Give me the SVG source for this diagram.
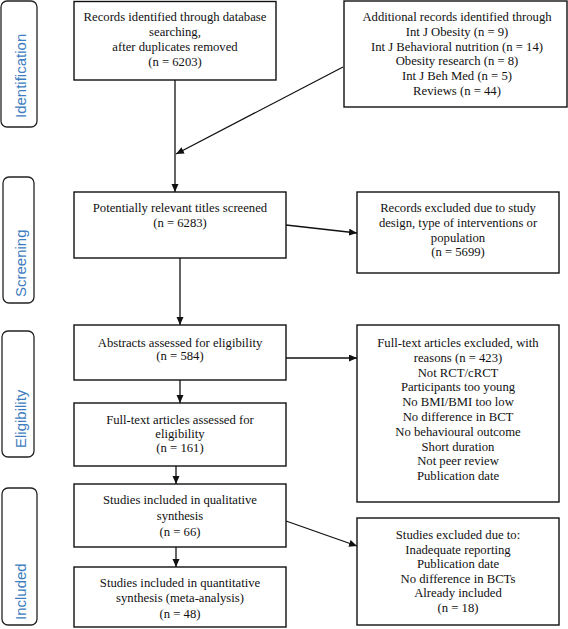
<svg xmlns="http://www.w3.org/2000/svg" width="568" height="629" viewBox="0 0 568 629">
<style>
.box{fill:#fff;stroke:#111;stroke-width:1.4}
.lab{fill:#fff;stroke:#222;stroke-width:1.3}
.t{font-family:"Liberation Serif","Times New Roman",serif;font-size:12.7px;fill:#111;text-anchor:middle}
.s{font-family:"Liberation Sans",Arial,sans-serif;font-size:15px;fill:#3d7cc0}
.c{stroke:#111;stroke-width:1.3;fill:none;marker-end:url(#ah)}
</style>
<defs>
<marker id="ah" markerUnits="userSpaceOnUse" markerWidth="9" markerHeight="8" refX="8" refY="3.5" orient="auto">
<path d="M0,0 L8,3.5 L0,7 z" fill="#111"/>
</marker>
</defs>
<rect width="568" height="629" fill="#fff"/>
<g id="stage-identification">
<rect class="lab" x="1" y="1" width="36" height="126" rx="6"/>
<text class="s" transform="translate(26,118) rotate(-90)">Identification</text>
</g>
<g id="stage-screening">
<rect class="lab" x="3" y="177" width="31" height="126" rx="6"/>
<text class="s" transform="translate(25.5,297) rotate(-90)">Screening</text>
</g>
<g id="stage-eligibility">
<rect class="lab" x="2" y="331" width="32" height="126" rx="6"/>
<text class="s" transform="translate(25.5,448) rotate(-90)">Eligibility</text>
</g>
<g id="stage-included">
<rect class="lab" x="2" y="488" width="35" height="137" rx="6"/>
<text class="s" transform="translate(25.5,620) rotate(-90)">Included</text>
</g>
<g id="records-db">
<rect class="box" x="74" y="1.5" width="202" height="78.5"/>
<text class="t"><tspan x="175" y="21">Records identified through database</tspan><tspan x="175" y="36">searching,</tspan><tspan x="175" y="51">after duplicates removed</tspan><tspan x="175" y="66">(n = 6203)</tspan></text>
</g>
<g id="records-additional">
<rect class="box" x="344" y="1" width="223" height="106"/>
<text class="t"><tspan x="457" y="21">Additional records identified through</tspan><tspan x="457" y="36">Int J Obesity (n = 9)</tspan><tspan x="457" y="51">Int J Behavioral nutrition (n = 14)</tspan><tspan x="457" y="65">Obesity research (n = 8)</tspan><tspan x="457" y="80">Int J Beh Med (n = 5)</tspan><tspan x="457" y="95">Reviews (n = 44)</tspan></text>
</g>
<g id="titles-screened">
<rect class="box" x="74" y="192" width="212" height="66"/>
<text class="t"><tspan x="180" y="212">Potentially relevant titles screened</tspan><tspan x="180" y="227">(n = 6283)</tspan></text>
</g>
<g id="records-excluded">
<rect class="box" x="357" y="192" width="202" height="81"/>
<text class="t"><tspan x="458" y="212">Records excluded due to study</tspan><tspan x="458" y="227">design, type of interventions or</tspan><tspan x="458" y="242">population</tspan><tspan x="458" y="256">(n = 5699)</tspan></text>
</g>
<g id="abstracts">
<rect class="box" x="74" y="325" width="212" height="55"/>
<text class="t"><tspan x="180" y="347">Abstracts assessed for eligibility</tspan><tspan x="180" y="360">(n = 584)</tspan></text>
</g>
<g id="fulltext-assessed">
<rect class="box" x="74" y="403" width="212" height="63"/>
<text class="t"><tspan x="180" y="424">Full-text articles assessed for</tspan><tspan x="180" y="438">eligibility</tspan><tspan x="180" y="452">(n = 161)</tspan></text>
</g>
<g id="fulltext-excluded">
<rect class="box" x="357" y="325" width="202" height="177"/>
<text class="t"><tspan x="458" y="347">Full-text articles excluded, with</tspan><tspan x="458" y="361.8">reasons (n = 423)</tspan><tspan x="458" y="376.6">Not RCT/cRCT</tspan><tspan x="458" y="391.4">Participants too young</tspan><tspan x="458" y="406.2">No BMI/BMI too low</tspan><tspan x="458" y="421">No difference in BCT</tspan><tspan x="458" y="435.8">No behavioural outcome</tspan><tspan x="458" y="450.6">Short duration</tspan><tspan x="458" y="465.4">Not peer review</tspan><tspan x="458" y="480.2">Publication date</tspan></text>
</g>
<g id="qualitative">
<rect class="box" x="74" y="484" width="212" height="63"/>
<text class="t"><tspan x="180" y="504">Studies included in qualitative</tspan><tspan x="180" y="520">synthesis</tspan><tspan x="180" y="536">(n = 66)</tspan></text>
</g>
<g id="quantitative">
<rect class="box" x="74" y="567" width="212" height="60"/>
<text class="t"><tspan x="180" y="587">Studies included in quantitative</tspan><tspan x="180" y="602">synthesis (meta-analysis)</tspan><tspan x="180" y="618">(n = 48)</tspan></text>
</g>
<g id="studies-excluded">
<rect class="box" x="357" y="518" width="202" height="107"/>
<text class="t"><tspan x="458" y="539">Studies excluded due to:</tspan><tspan x="458" y="553.5">Inadequate reporting</tspan><tspan x="458" y="568">Publication date</tspan><tspan x="458" y="582.5">No difference in BCTs</tspan><tspan x="458" y="597">Already included</tspan><tspan x="458" y="611.5">(n = 18)</tspan></text>
</g>
<g id="connectors">
<line class="c" x1="175" y1="80" x2="175" y2="192"/>
<line class="c" x1="343" y1="67" x2="176" y2="154"/>
<line class="c" x1="286" y1="225" x2="357" y2="233"/>
<line class="c" x1="180" y1="258" x2="180" y2="325"/>
<line class="c" x1="286" y1="358" x2="357" y2="358"/>
<line class="c" x1="180" y1="380" x2="180" y2="403"/>
<line class="c" x1="176" y1="466" x2="176" y2="484"/>
<line class="c" x1="176" y1="547" x2="176" y2="567"/>
<line class="c" x1="286" y1="521" x2="357" y2="546"/>
</g>
</svg>
